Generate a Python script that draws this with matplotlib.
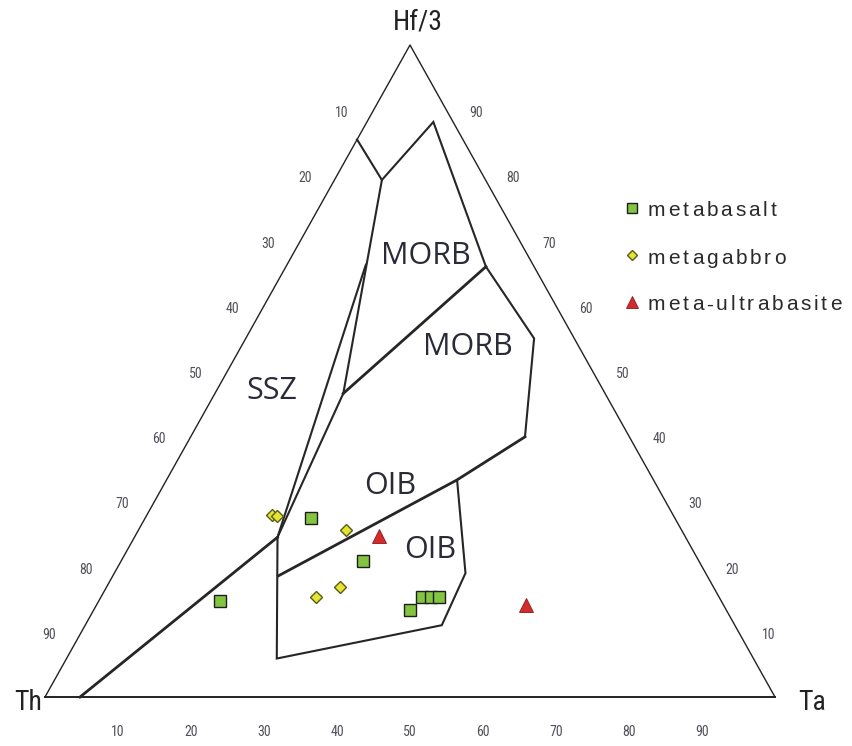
import numpy as np
import matplotlib
matplotlib.use("Agg")
import matplotlib.pyplot as plt

W, H = 852, 746

# ---- sample data: ternary percentages (Th, Ta, Hf/3) ----
basalt_th = [68.7, 49.9, 46.0, 43.3, 40.6, 39.4, 38.3]
basalt_ta = [16.6, 22.7, 33.2, 43.3, 44.0, 45.2, 46.3]
basalt_hf = [14.8, 27.4, 20.8, 13.3, 15.4, 15.4, 15.4]

gabbro_th = [55.0, 54.4, 45.9, 55.2, 51.1]
gabbro_ta = [17.1, 17.9, 28.5, 29.5, 32.0]
gabbro_hf = [27.9, 27.8, 25.6, 15.3, 16.9]

ultra_th = [41.9, 27.0]
ultra_ta = [33.4, 58.9]
ultra_hf = [24.7, 14.1]

# ---- field boundaries (Th, Ta, Hf/3) ----
morb_outer_th = [14.5, 14.2, 2.7, 6.6, 5.5, 14.3]
morb_outer_ta = [0.0, 6.5, 9.1, 27.4, 39.5, 45.8]
morb_outer_hf = [85.5, 79.3, 88.2, 66.0, 55.0, 39.9]

morb_left_th = [14.2, 35.9]
morb_left_ta = [6.5, 17.6]
morb_left_hf = [79.3, 46.6]

ssz_right_th = [22.9, 55.9]
ssz_right_ta = [10.8, 19.6]
ssz_right_hf = [66.3, 24.5]

inner_left_th = [35.9, 55.9]
inner_left_ta = [17.6, 19.6]
inner_left_hf = [46.6, 24.5]

oib_outer_th = [55.9, 65.3, 40.1, 32.9, 26.9]
oib_outer_ta = [19.6, 28.8, 48.8, 48.1, 39.8]
oib_outer_hf = [24.5, 5.9, 11.0, 19.0, 33.3]

ssz_base_th = [95.2, 55.9]
ssz_base_ta = [4.8, 19.6]
ssz_base_hf = [0.0, 24.5]

morb_split_th = [35.9, 6.6]
morb_split_ta = [17.6, 27.4]
morb_split_hf = [46.6, 66.0]

oib_split_th = [58.8, 26.9, 14.3]
oib_split_ta = [22.7, 39.8, 45.8]
oib_split_hf = [18.6, 33.3, 39.9]

tick_values = [10, 20, 30, 40, 50, 60, 70, 80, 90]
legend_labels = ["metabasalt", "metagabbro", "meta-ultrabasite"]
field_labels = ["MORB", "MORB", "SSZ", "OIB", "OIB"]


def tern(th, ta, hf):
    th, ta, hf = (np.atleast_1d(np.asarray(v, float)) for v in (th, ta, hf))
    s = th + ta + hf
    return (ta + hf / 2) / s * 100, hf / s * 100


def tern_pt(th, ta, hf):
    x, y = tern(th, ta, hf)
    return float(x[0]), float(y[0])


NARROW = ["Roboto Condensed", "Roboto", "DejaVu Sans"]

fig = plt.figure(figsize=(W / 100, H / 100), dpi=100)
fig.patch.set_facecolor("white")
ax = fig.add_axes([45 / W, (H - 697) / H, 730 / W, 652 / H])
ax.set_xlim(0, 100)
ax.set_ylim(0, 100)
ax.axis("off")

# triangle outline
tx, ty = tern([100, 0, 0, 100], [0, 100, 0, 0], [0, 0, 100, 0])
ax.plot(tx[1:], ty[1:], color="#222222", lw=1.0, clip_on=False)
ax.plot(tx[:2], ty[:2], color="#222222", lw=1.4, clip_on=False)

thin = dict(color="#262626", lw=1.5, solid_joinstyle="miter", clip_on=False)
thick = dict(color="#262626", lw=2.0, solid_joinstyle="miter", clip_on=False)
for th, ta, hf in [(morb_outer_th, morb_outer_ta, morb_outer_hf),
                   (morb_left_th, morb_left_ta, morb_left_hf),
                   (ssz_right_th, ssz_right_ta, ssz_right_hf),
                   (inner_left_th, inner_left_ta, inner_left_hf),
                   (oib_outer_th, oib_outer_ta, oib_outer_hf)]:
    ax.plot(*tern(th, ta, hf), **thin)
for th, ta, hf in [(ssz_base_th, ssz_base_ta, ssz_base_hf),
                   (morb_split_th, morb_split_ta, morb_split_hf),
                   (oib_split_th, oib_split_ta, oib_split_hf)]:
    ax.plot(*tern(th, ta, hf), **thick)

# samples
sq = dict(marker="s", ms=8.6, mfc="#83c441", mec="#1e1e1e", mew=1.0, ls="none", zorder=5)
dm = dict(marker="D", ms=6.4, mfc="#e4e433", mec="#5a5a1a", mew=1.0, ls="none", zorder=5)
tr = dict(marker="^", ms=10, mfc="#d32a2e", mec="#8a1a1a", mew=0.6, ls="none", zorder=5)
ax.plot(*tern(basalt_th, basalt_ta, basalt_hf), **sq)
ax.plot(*tern(gabbro_th, gabbro_ta, gabbro_hf), **dm)
ax.plot(*tern(ultra_th, ultra_ta, ultra_hf), **tr)

# tick labels
tk = dict(fontsize=10, color="#505058", family=NARROW, ha="center", va="center",
          textcoords="offset pixels")
for v in tick_values:
    ax.annotate(str(v), tern_pt(v, 0, 100 - v), xytext=(-32, -3), **tk)   # Th
    ax.annotate(str(v), tern_pt(0, 100 - v, v), xytext=(30, -3), **tk)    # Hf/3
    ax.annotate(str(v), tern_pt(100 - v, v, 0), xytext=(0, -35), **tk)    # Ta

# overlay in pixel coordinates
ov = fig.add_axes([0, 0, 1, 1])
ov.set_xlim(0, W)
ov.set_ylim(H, 0)
ov.axis("off")
ov.patch.set_alpha(0)

vk = dict(fontsize=20, color="#222222", family=NARROW, ha="center", va="center")
ov.text(28, 703, "Th", **vk)
ov.text(812, 703, "Ta", **vk)
ov.text(418, 22, "Hf/3", **vk)

fk = dict(fontsize=22, color="#2b2b38", family=["Open Sans", "DejaVu Sans"],
          ha="center", va="center")
for lab, (px, py) in zip(field_labels, [(426, 256), (468, 347), (272, 391),
                                        (390, 486), (430, 550)]):
    ov.text(px, py, lab, **fk)

# legend
renderer = fig.canvas.get_renderer()
leg_y = [208, 255, 302]
leg_mk = [dict(marker="s", ms=7.0, mfc="#83c441", mec="#1e1e1e", mew=1.0),
          dict(marker="D", ms=5.0, mfc="#e4e433", mec="#5a5a1a", mew=1.0),
          dict(marker="^", ms=8.6, mfc="#d32a2e", mec="#8a1a1a", mew=0.6)]
for lab, y, mk in zip(legend_labels, leg_y, leg_mk):
    ov.plot([632], [y], ls="none", **mk)
    x = 648
    for ch in lab:
        t = ov.text(x, y + 8.5, ch, fontsize=15, color="#2a2a2a",
                    family=["Liberation Sans", "DejaVu Sans"], ha="left", va="baseline")
        x += t.get_window_extent(renderer).width + 2.9

fig.savefig("out.png", dpi=100, facecolor="white")
